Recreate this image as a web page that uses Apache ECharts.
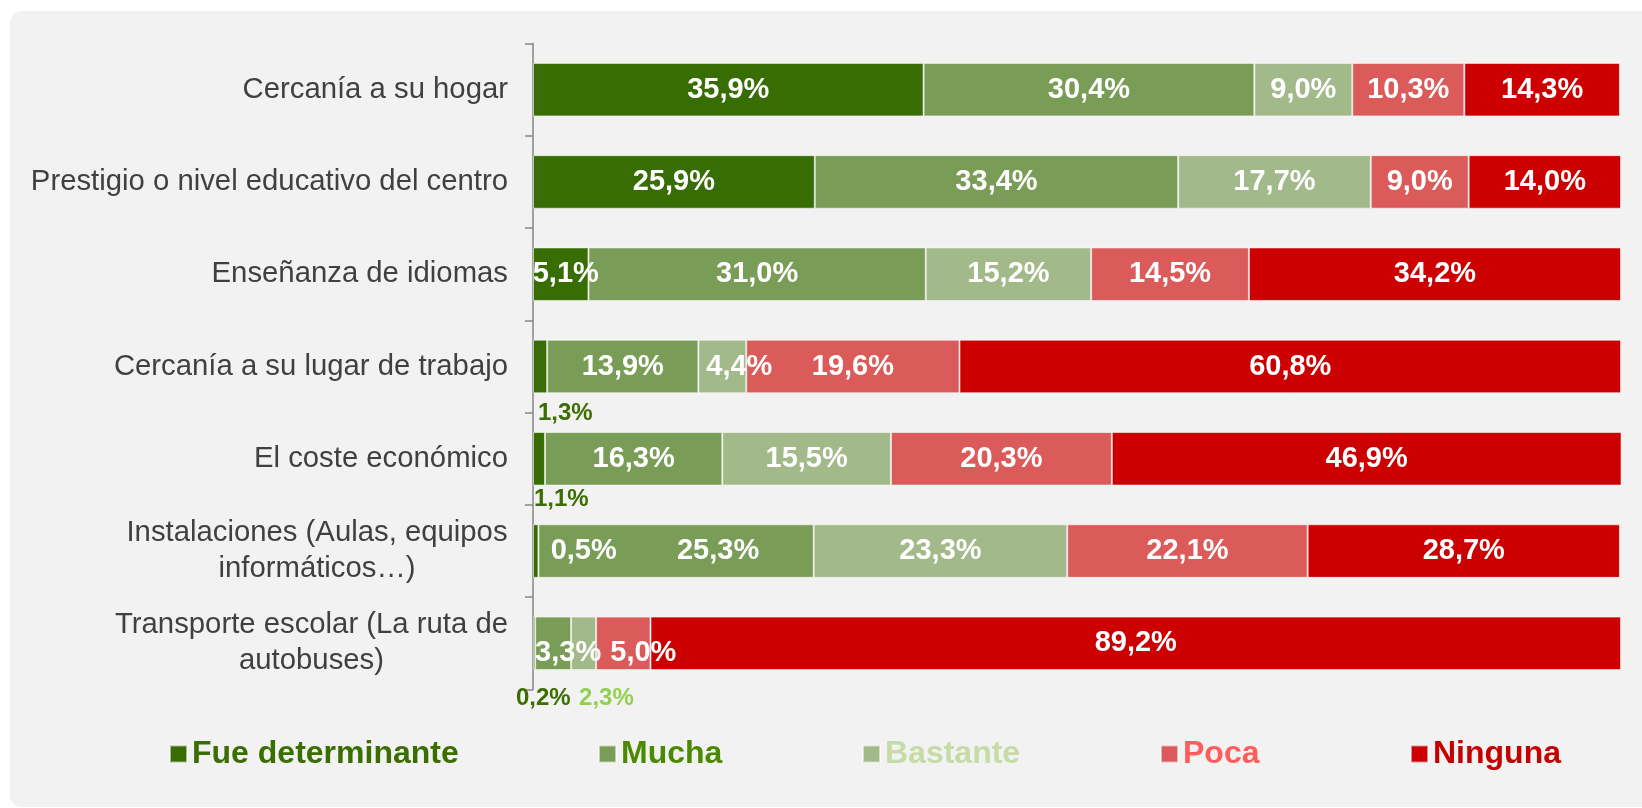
<!DOCTYPE html>
<html>
<head>
<meta charset="utf-8">
<script src="https://cdn.jsdelivr.net/npm/echarts@6/dist/echarts.min.js"></script>
<style>
html,body{margin:0;padding:0;background:#ffffff;}
#chart{width:1642px;height:808px;}
</style>
</head>
<body>
<div id="chart"></div>
<script>
const categories = [
  'Cercanía a su hogar',
  'Prestigio o nivel educativo del centro',
  'Enseñanza de idiomas',
  'Cercanía a su lugar de trabajo',
  'El coste económico',
  'Instalaciones (Aulas, equipos\ninformáticos…)',
  'Transporte escolar (La ruta de\nautobuses)'
];
const seriesNames = ['Fue determinante', 'Mucha', 'Bastante', 'Poca', 'Ninguna'];
const fueDeterminante = [35.9, 25.9, 5.1, 1.3, 1.1, 0.5, 0.2];
const mucha = [30.4, 33.4, 31.0, 13.9, 16.3, 25.3, 3.3];
const bastante = [9.0, 17.7, 15.2, 4.4, 15.5, 23.3, 2.3];
const poca = [10.3, 9.0, 14.5, 19.6, 20.3, 22.1, 5.0];
const ninguna = [14.3, 14.0, 34.2, 60.8, 46.9, 28.7, 89.2];

const seriesValues = [fueDeterminante, mucha, bastante, poca, ninguna];
const barColors = ['#386d04', '#799d57', '#a2b98a', '#db5b5b', '#cc0000'];
const legendTextColors = ['#3b6e00', '#4a8a00', '#c6dba5', '#ff5c5c', '#c40000'];
const legendLefts = [164, 593, 857, 1155, 1405];

const FONT = '"Liberation Sans", Arial, sans-serif';
const smallOut = {fontSize: 24, align: 'left', verticalAlign: 'middle'};
// label placement overrides: key = seriesIndex + '|' + rowIndex
const labelOverrides = {
  '0|2': {offset: [5, 0]},
  '0|3': Object.assign({position: [5, 74], color: '#3b6e00'}, smallOut),
  '0|4': Object.assign({position: [1, 67], color: '#3b6e00'}, smallOut),
  '0|5': {offset: [48, 0]},
  '0|6': Object.assign({position: [-17, 82], color: '#3b6e00'}, smallOut),
  '1|5': {offset: [42, 0]},
  '1|6': {offset: [15, 10]},
  '2|3': {offset: [17, 0]},
  '2|6': Object.assign({position: [8, 82], color: '#92d050'}, smallOut),
  '3|6': {offset: [20, 10]}
};

function fmt(v) { return v.toFixed(1).replace('.', ',') + '%'; }

const CAT_SIZE = 29.3;
// measure widths for centered multi-line category labels
const cv = document.createElement('canvas').getContext('2d');
cv.font = CAT_SIZE + 'px ' + FONT;
const rich = {};
const catLabelMap = {};
categories.forEach(function (c, i) {
  const lines = c.split('\n');
  if (lines.length > 1) {
    const w = Math.max.apply(null, lines.map(function (l) { return cv.measureText(l).width; }));
    rich['m' + i] = {width: Math.ceil(w), align: 'center', fontSize: CAT_SIZE, lineHeight: 36, color: '#404040', fontFamily: FONT};
    catLabelMap[c] = lines.map(function (l) { return '{m' + i + '|' + l + '}'; }).join('\n');
  } else {
    catLabelMap[c] = c;
  }
});

const series = seriesNames.map(function (name, si) {
  return {
    name: name,
    type: 'bar',
    stack: 'total',
    barWidth: '58%',
    z: 10 - si,
    itemStyle: {color: barColors[si], borderColor: 'rgba(255,255,255,0.55)', borderWidth: 1},
    label: {
      show: true,
      position: 'inside',
      color: '#ffffff',
      fontWeight: 'bold',
      fontSize: 29,
      fontFamily: FONT,
      formatter: function (p) { return fmt(p.value); }
    },
    data: seriesValues[si].map(function (v, ri) {
      const o = labelOverrides[si + '|' + ri];
      return o ? {value: v, label: o} : {value: v};
    })
  };
});

const chart = echarts.init(document.getElementById('chart'), null, {renderer: 'canvas'});
chart.setOption({
  backgroundColor: '#ffffff',
  animation: false,
  graphic: [{
    type: 'rect',
    z: -10,
    silent: true,
    shape: {x: 10, y: 11, width: 1700, height: 796, r: [12, 0, 0, 12]},
    style: {fill: '#f2f2f2'}
  }],
  grid: {left: 533, right: 21, top: 43.5, height: 646, containLabel: false},
  xAxis: {type: 'value', min: 0, max: 100, show: false},
  yAxis: {
    type: 'category',
    inverse: true,
    data: categories,
    axisLine: {show: true, lineStyle: {color: '#868686', width: 1.5}},
    axisTick: {show: true, length: 8, alignWithLabel: false, lineStyle: {color: '#868686', width: 1.5}},
    splitLine: {show: false},
    axisLabel: {
      margin: 25,
      color: '#404040',
      fontSize: CAT_SIZE,
      lineHeight: 36,
      fontFamily: FONT,
      formatter: function (v) { return catLabelMap[v]; },
      rich: rich
    }
  },
  legend: seriesNames.map(function (n, i) {
    return {
      left: legendLefts[i],
      top: 731,
      icon: 'rect',
      itemWidth: 17,
      itemHeight: 17,
      selectedMode: false,
      data: [{name: n, textStyle: {color: legendTextColors[i]}}],
      textStyle: {fontSize: 32, fontWeight: 'bold', fontFamily: FONT, lineHeight: 36}
    };
  }),
  series: series
});
</script>
</body>
</html>
